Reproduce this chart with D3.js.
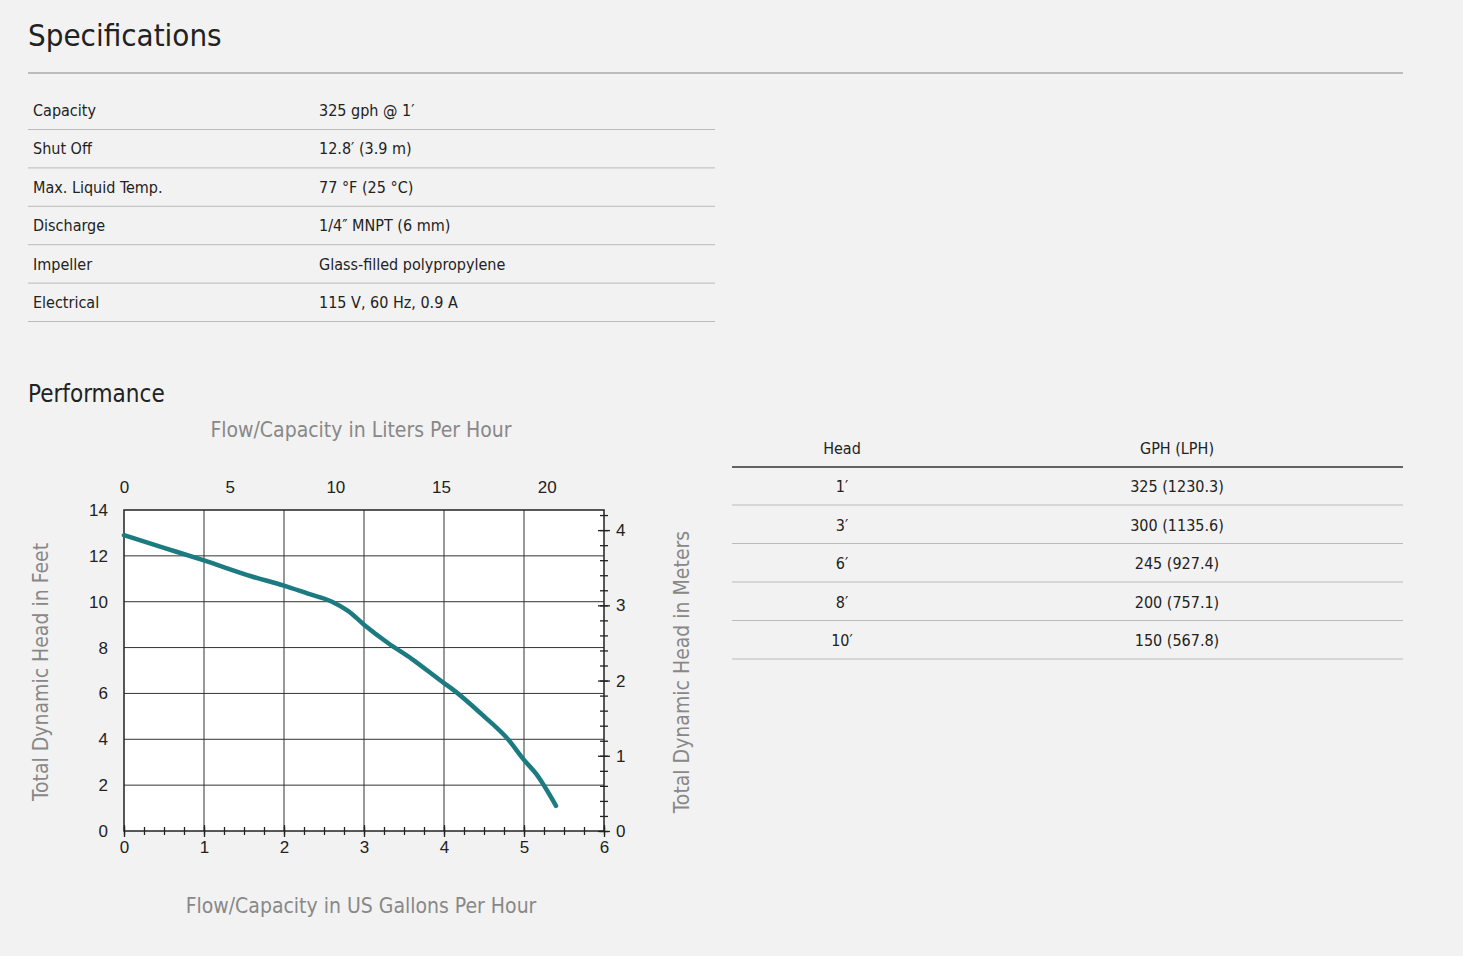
<!DOCTYPE html>
<html>
<head>
<meta charset="utf-8">
<script src="https://cdn.jsdelivr.net/npm/d3@7"></script>
<style>
  body { margin: 0; background: #f2f2f2; }
  svg { display: block; font-family: "DejaVu Sans Condensed", "Liberation Sans Narrow", sans-serif; }
</style>
</head>
<body>
<svg id="page" width="1463" height="956"></svg>
<script>
// Specifications table
const specLabels = ["Capacity", "Shut Off", "Max. Liquid Temp.", "Discharge", "Impeller", "Electrical"];
const specValues = ["325 gph @ 1′", "12.8′ (3.9 m)", "77 °F (25 °C)", "1/4″ MNPT (6 mm)", "Glass-filled polypropylene", "115 V, 60 Hz, 0.9 A"];

// Performance table
const headLabels = ["1′", "3′", "6′", "8′", "10′"];
const gphLabels = ["325 (1230.3)", "300 (1135.6)", "245 (927.4)", "200 (757.1)", "150 (567.8)"];

// Curve: flow (bottom axis units) vs head in feet
const curveFlow = [0, 0.5, 1, 1.6, 2, 2.3, 2.6, 2.8, 3, 3.3, 3.6, 4, 4.1, 4.5, 4.8, 5, 5.15, 5.4];
const curveHead = [12.9, 12.35, 11.8, 11.1, 10.7, 10.35, 10, 9.6, 9.0, 8.2, 7.5, 6.45, 6.2, 5.0, 4.0, 3.1, 2.5, 1.1];

const svg = d3.select('#page');
const ink = '#222';
const gray = '#888';

// --- Specifications ---
svg.append('text').attr('x', 28).attr('y', 46).attr('font-size', 31).attr('fill', ink).text('Specifications');
svg.append('line').attr('x1', 28).attr('x2', 1403).attr('y1', 73).attr('y2', 73).attr('stroke', '#aaa').attr('stroke-width', 1.5);

const specRow = d3.scaleLinear().domain([0, 1]).range([110, 148.4]);
specLabels.forEach((lab, i) => {
  const y = specRow(i);
  svg.append('text').attr('x', 33).attr('y', y + 6).attr('font-size', 16).attr('fill', ink).text(lab);
  svg.append('text').attr('x', 319).attr('y', y + 6).attr('font-size', 16).attr('fill', ink).text(specValues[i]);
  svg.append('line').attr('x1', 28).attr('x2', 715).attr('y1', y + 19.5).attr('y2', y + 19.5).attr('stroke', '#bbb');
});

// --- Performance ---
svg.append('text').attr('x', 28).attr('y', 402).attr('font-size', 24).attr('fill', ink).text('Performance');

const perfRow = d3.scaleLinear().domain([0, 1]).range([486, 524.5]);
svg.append('text').attr('x', 842).attr('y', 454).attr('text-anchor', 'middle').attr('font-size', 16).attr('fill', ink).text('Head');
svg.append('text').attr('x', 1177).attr('y', 454).attr('text-anchor', 'middle').attr('font-size', 16).attr('fill', ink).text('GPH (LPH)');
svg.append('line').attr('x1', 732).attr('x2', 1403).attr('y1', 467).attr('y2', 467).attr('stroke', '#333').attr('stroke-width', 1.5);
headLabels.forEach((h, i) => {
  const y = perfRow(i);
  svg.append('text').attr('x', 842).attr('y', y + 6).attr('text-anchor', 'middle').attr('font-size', 16).attr('fill', ink).text(h);
  svg.append('text').attr('x', 1177).attr('y', y + 6).attr('text-anchor', 'middle').attr('font-size', 16).attr('fill', ink).text(gphLabels[i]);
  svg.append('line').attr('x1', 732).attr('x2', 1403).attr('y1', y + 19).attr('y2', y + 19).attr('stroke', '#bbb');
});

// --- Chart ---
const L = 124, R = 604, T = 510, B = 831;
const x = d3.scaleLinear().domain([0, 6]).range([L, R]);
const xL = d3.scaleLinear().domain([0, 6 * 3.785]).range([L, R]);
const y = d3.scaleLinear().domain([0, 14]).range([B, T]);
const yM = d3.scaleLinear().domain([0, 14 * 0.3048]).range([B, T]);

const g = svg.append('g');
g.append('rect').attr('x', L).attr('y', T).attr('width', R - L).attr('height', B - T).attr('fill', '#fff');

// grid
g.selectAll('.vg').data([1, 2, 3, 4, 5]).enter().append('line')
  .attr('x1', d => x(d)).attr('x2', d => x(d)).attr('y1', T).attr('y2', B).attr('stroke', '#333');
g.selectAll('.hg').data([2, 4, 6, 8, 10, 12]).enter().append('line')
  .attr('y1', d => y(d)).attr('y2', d => y(d)).attr('x1', L).attr('x2', R).attr('stroke', '#333');
g.append('rect').attr('x', L).attr('y', T).attr('width', R - L).attr('height', B - T)
  .attr('fill', 'none').attr('stroke', '#222').attr('stroke-width', 1.5);

function styleAxis(sel, crossAttr, size) {
  sel.select('.domain').remove();
  sel.selectAll('.tick line').attr('stroke', '#222').attr('stroke-width', 1.3).attr(crossAttr, size);
  sel.selectAll('.tick text').attr('fill', ink).attr('font-size', 17).attr('font-family', null);
}

// minor ticks
const minor = (axis, scale, ticks, attr, pos) => {
  const s = g.append('g').attr('transform', pos).call(axis(scale).tickValues(ticks).tickSize(4).tickFormat(''));
  styleAxis(s, attr, -4);
};
minor(d3.axisBottom, x, d3.range(0, 6.01, 0.25), 'y1', `translate(0,${B})`);
minor(d3.axisTop, xL, d3.range(0, 22.5, 1), 'y1', `translate(0,${T})`);
minor(d3.axisLeft, y, d3.range(0, 14.01, 0.5), 'x1', `translate(${L},0)`);
minor(d3.axisRight, yM, d3.range(0, 4.21, 0.2), 'x1', `translate(${R},0)`);

// major axes
const ax = (axis, scale, ticks, attr, pos, pad) => {
  const s = g.append('g').attr('transform', pos).call(axis(scale).tickValues(ticks).tickSize(6).tickPadding(pad).tickFormat(d3.format('d')));
  styleAxis(s, attr, -6);
};
ax(d3.axisBottom, x, [0, 1, 2, 3, 4, 5, 6], 'y1', `translate(0,${B})`, 4);
ax(d3.axisTop, xL, [0, 5, 10, 15, 20], 'y1', `translate(0,${T})`, 11);
ax(d3.axisLeft, y, [0, 2, 4, 6, 8, 10, 12, 14], 'x1', `translate(${L},0)`, 10);
ax(d3.axisRight, yM, [0, 1, 2, 3, 4], 'x1', `translate(${R},0)`, 6);

// curve
const pts = curveFlow.map((f, i) => [f, curveHead[i]]);
g.append('path').datum(pts)
  .attr('d', d3.line().x(d => x(d[0])).y(d => y(d[1])).curve(d3.curveMonotoneX))
  .attr('fill', 'none').attr('stroke', '#1b7b80').attr('stroke-width', 4.5).attr('stroke-linecap', 'round');

// titles
svg.append('text').attr('x', 361).attr('y', 437).attr('text-anchor', 'middle').attr('font-size', 21).attr('fill', gray).text('Flow/Capacity in Liters Per Hour');
svg.append('text').attr('x', 361).attr('y', 913).attr('text-anchor', 'middle').attr('font-size', 21).attr('fill', gray).text('Flow/Capacity in US Gallons Per Hour');
svg.append('text').attr('transform', 'translate(48,672) rotate(-90)').attr('text-anchor', 'middle').attr('font-size', 21).attr('fill', gray).text('Total Dynamic Head in Feet');
svg.append('text').attr('transform', 'translate(689,672) rotate(-90)').attr('text-anchor', 'middle').attr('font-size', 21).attr('fill', gray).text('Total Dynamic Head in Meters');
</script>
</body>
</html>
